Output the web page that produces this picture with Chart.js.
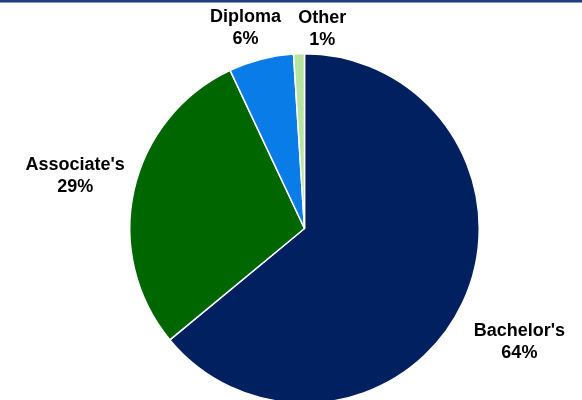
<!DOCTYPE html>
<html>
<head>
<meta charset="utf-8">
<script src="https://cdn.jsdelivr.net/npm/chart.js@4"></script>
<style>
html,body{margin:0;padding:0;background:#fff;}
#wrap{position:relative;width:582px;height:400px;overflow:hidden;}
#topline{position:absolute;left:0;top:0;width:582px;height:2px;background:#1f3c7c;border-bottom:1px solid #8b9cc4;z-index:2;}
canvas{position:absolute;left:0;top:0;}
</style>
</head>
<body>
<div id="wrap">
<div id="topline"></div>
<canvas id="degreeChart" width="582" height="430"></canvas>
</div>
<script>

const labels=["Bachelor's","Associate's","Diploma","Other"];
const shares=[64,29,6,1];
const colors=["#002060","#006600","#0a7ce8","#b7e4a1"];

// label distance from centre and small nudges, in px
const labelDist=[243,235,209,200];
const labelNudge=[[-5,10],[0,-1],[-7,2],[24,0]];

const outsideLabels={
id:"outsideLabels",
afterDatasetsDraw(chart){
const ctx=chart.ctx;
const meta=chart.getDatasetMeta(0);
ctx.save();
ctx.font="bold 18px 'Liberation Sans', Arial, sans-serif";
ctx.fillStyle="#000";
ctx.textAlign="center";
ctx.textBaseline="middle";
meta.data.forEach((arc,i)=>{
const p=arc.getProps(["x","y","startAngle","endAngle"],true);
const mid=(p.startAngle+p.endAngle)/2;
const cx=p.x+Math.cos(mid)*labelDist[i]+labelNudge[i][0];
const cy=p.y+Math.sin(mid)*labelDist[i]+labelNudge[i][1];
ctx.fillText(labels[i],cx,cy-11);
ctx.fillText(shares[i]+"%",cx,cy+11);
});
ctx.restore();
}
};

new Chart(document.getElementById("degreeChart"),{
type:"pie",
data:{
labels:labels,
datasets:[{
data:shares,
backgroundColor:colors,
borderColor:"#ffffff",
borderWidth:1.5
}]
},
options:{
responsive:false,
animation:false,
layout:{padding:{left:129,right:102,top:53,bottom:26}},
plugins:{
legend:{display:false},
tooltip:{enabled:false}
}
},
plugins:[outsideLabels]
});

</script>
</body>
</html>
